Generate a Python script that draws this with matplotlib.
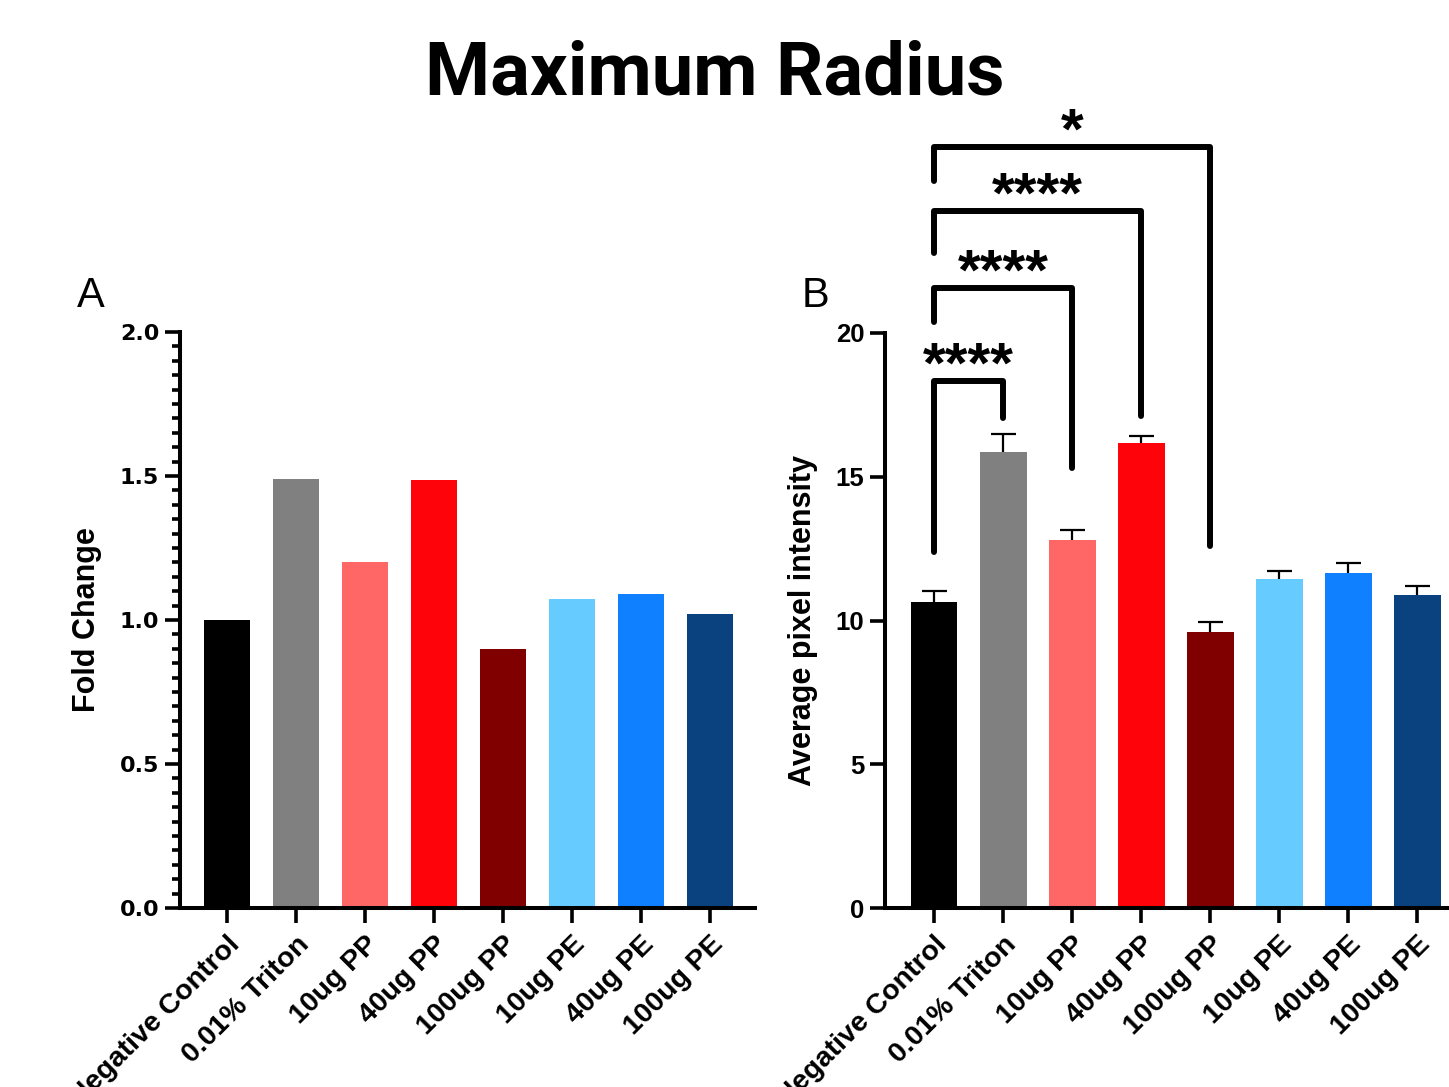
import matplotlib
matplotlib.use("Agg")
import matplotlib.pyplot as plt
from matplotlib.ticker import MultipleLocator, FormatStrFormatter

# ---- data ----
groups = ["Negative Control", "0.01% Triton", "10ug PP", "40ug PP",
          "100ug PP", "10ug PE", "40ug PE", "100ug PE"]
bar_colors = ["#000000", "#808080", "#FF6666", "#FE0309",
              "#800000", "#66CCFF", "#0F80FF", "#0A4280"]

fold_change = [1.00, 1.49, 1.20, 1.485, 0.90, 1.073, 1.09, 1.02]

pixel_mean = [10.64, 15.86, 12.80, 16.17, 9.60, 11.44, 11.65, 10.89]
pixel_sem = [0.40, 0.64, 0.34, 0.26, 0.35, 0.29, 0.36, 0.31]

# significance comparisons against the negative control: (group index, label)
comparisons = [(1, "****"), (2, "****"), (3, "****"), (4, "*")]

# ---- styling ----
FONT = ["Liberation Sans", "DejaVu Sans"]
WIDE = ["DejaVu Sans"]
plt.rcParams["font.family"] = FONT
SPINE_W = 2.9
TICK_W = 2.6

W, H = 1449, 1087
fig = plt.figure(figsize=(W / 100, H / 100), dpi=100)


def px_axes(left, right, top, bottom):
    return fig.add_axes([left / W, 1 - bottom / H, (right - left) / W, (bottom - top) / H])


def style_axes(ax, ytick_font, ytick_size):
    for side in ("top", "right"):
        ax.spines[side].set_visible(False)
    for side in ("left", "bottom"):
        ax.spines[side].set_linewidth(SPINE_W)
        ax.spines[side].set_capstyle("projecting")
    ax.tick_params(axis="both", which="major", direction="out", length=11,
                   width=TICK_W, color="black", pad=4)
    ax.tick_params(axis="x", which="major", pad=6)
    ax.tick_params(axis="y", which="minor", direction="out", length=5.5, width=TICK_W)
    ax.set_xticks(range(len(groups)))
    ax.set_xticklabels(groups, rotation=45, ha="right", va="top",
                       rotation_mode="anchor", fontsize=20.5, fontweight="bold")
    for lab in ax.get_yticklabels():
        lab.set_fontsize(ytick_size)
        lab.set_fontweight("bold")
        lab.set_family(ytick_font)
    ax.set_facecolor("none")


# ---- panel A: fold change ----
axA = px_axes(180, 755, 332, 908)
x = range(len(groups))
axA.bar(x, fold_change, width=0.68, color=bar_colors, zorder=2)
axA.set_xlim(-0.681, 7.652)
axA.set_ylim(0, 2.0)
axA.yaxis.set_major_locator(MultipleLocator(0.5))
axA.yaxis.set_minor_locator(MultipleLocator(0.05))
axA.yaxis.set_major_formatter(FormatStrFormatter("%.1f"))
style_axes(axA, WIDE, 16)
axA.set_ylabel("Fold Change", fontsize=22, fontweight="bold")
axA.yaxis.set_label_coords(-0.136, 0.5)

# ---- panel B: average pixel intensity ----
axB = px_axes(885, 1449, 333, 908)
axB.errorbar(x, pixel_mean, yerr=pixel_sem, fmt="none", ecolor="black",
             elinewidth=1.6, capsize=9, capthick=1.6, zorder=1)
axB.bar(x, pixel_mean, width=0.68, color=bar_colors, zorder=2)
axB.set_xlim(-0.71, 7.46)
axB.set_ylim(0, 20)
axB.yaxis.set_major_locator(MultipleLocator(5))
style_axes(axB, FONT, 18.5)
axB.set_ylabel("Average pixel intensity", fontsize=22, fontweight="bold")
axB.yaxis.set_label_coords(-0.119, 0.5)

# significance brackets: horizontal level, left leg end, right leg end
bracket_levels = [18.33, 21.57, 24.24, 26.47]
left_leg_ends = [12.38, 20.38, 22.78, 25.29]
right_leg_ends = [17.04, 15.30, 17.11, 12.59]
for (j, label), lvl, lft, rgt in zip(comparisons, bracket_levels,
                                      left_leg_ends, right_leg_ends):
    axB.plot([0, 0, j, j], [lft, lvl, lvl, rgt], color="black", lw=4.3,
             solid_capstyle="round", solid_joinstyle="round", clip_on=False,
             zorder=3)
    axB.annotate(label, xy=(j / 2, lvl), xytext=(0, -1),
                 textcoords="offset points", ha="center", va="baseline",
                 fontsize=42, fontweight="bold", annotation_clip=False)

# ---- titles and panel letters ----
fig.text(715 / W, 1 - 95 / H, "Maximum Radius", ha="center", va="baseline",
         fontsize=53.5, fontweight="bold", family=["Roboto", "DejaVu Sans"])
fig.text(77 / W, 1 - 307 / H, "A", ha="left", va="baseline", fontsize=30)
fig.text(802 / W, 1 - 307 / H, "B", ha="left", va="baseline", fontsize=30)

fig.savefig("out.png", dpi=100, facecolor="white")
